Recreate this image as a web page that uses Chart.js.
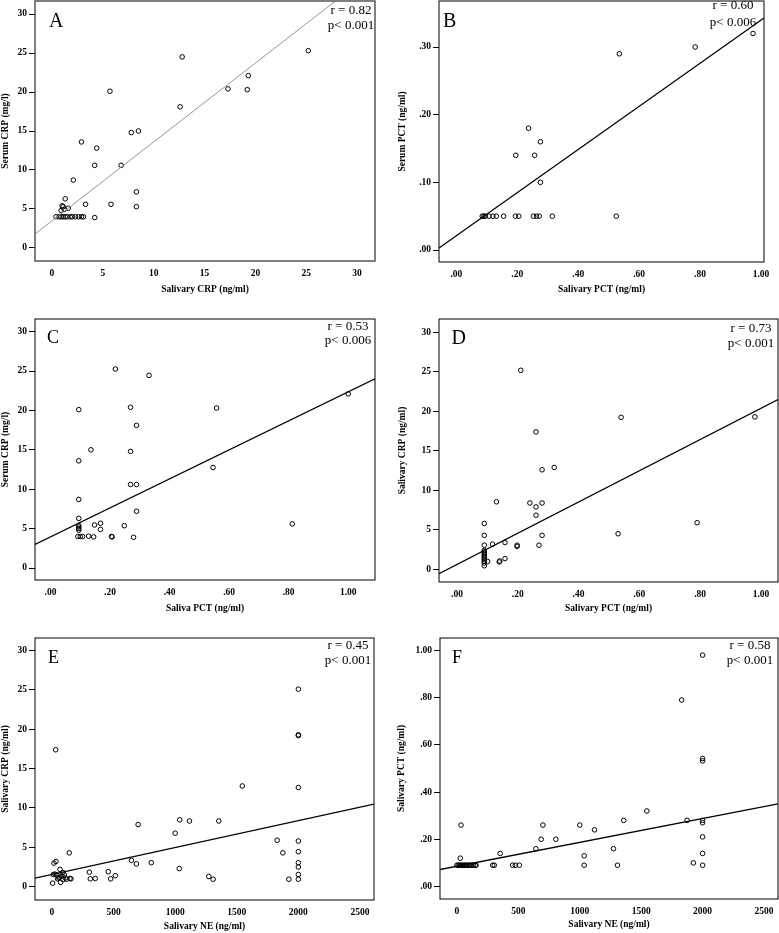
<!DOCTYPE html>
<html><head><meta charset="utf-8">
<script src="https://cdn.jsdelivr.net/npm/chart.js@4.4.1/dist/chart.umd.min.js"></script>
<style>
html,body{margin:0;padding:0;background:#fff;overflow:hidden;}
body{width:779px;height:933px;position:relative;}
.cell{position:absolute;}
canvas{display:block;}
</style></head><body>
<div class="cell" style="left:0px;top:-8px"><canvas id="A" width="390" height="318"></canvas></div>
<div class="cell" style="left:390px;top:-8px"><canvas id="B" width="389" height="318"></canvas></div>
<div class="cell" style="left:0px;top:310px"><canvas id="C" width="390" height="310"></canvas></div>
<div class="cell" style="left:390px;top:310px"><canvas id="D" width="397" height="310"></canvas></div>
<div class="cell" style="left:0px;top:620px"><canvas id="E" width="390" height="313"></canvas></div>
<div class="cell" style="left:390px;top:620px"><canvas id="F" width="397" height="313"></canvas></div>
<script>
// ---------- Panel A: Salivary CRP vs Serum CRP ----------
const aSalivaryCRP = [25.2, 12.8, 19.3, 17.3, 19.2, 5.7, 12.6, 7.8, 8.5, 2.9, 4.4, 4.2, 6.8, 2.1, 8.3, 1.3, 3.3, 5.8, 8.3, 1.6, 1.0, 1.1, 0.9, 1.2, 4.2,
  0.4, 0.7, 0.9, 1.1, 1.3, 1.5, 1.8, 2.0, 2.3, 2.6, 2.9, 3.1];
const aSerumCRP = [25.3, 24.5, 22.1, 20.4, 20.3, 20.1, 18.1, 14.8, 15.0, 13.6, 12.8, 10.6, 10.6, 8.7, 7.2, 6.3, 5.6, 5.6, 5.3, 5.1, 5.4, 5.3, 4.8, 4.95, 3.9,
  4.0, 4.0, 4.0, 4.0, 4.0, 4.0, 4.0, 4.0, 4.0, 4.0, 4.0, 4.0];
const aFitX = [-1.67, 28.0];
const aFitY = [1.8, 31.8];
const aXTicks = [0, 5, 10, 15, 20, 25, 30];
const aYTicks = [0, 5, 10, 15, 20, 25, 30];

// ---------- Panel B: Salivary PCT vs Serum PCT ----------
const bSalivaryPCT = [0.974, 0.784, 0.535, 0.237, 0.276, 0.195, 0.257, 0.276,
  0.085, 0.09, 0.095, 0.107, 0.12, 0.131, 0.155, 0.194, 0.205, 0.253, 0.263, 0.272, 0.315, 0.525];
const bSerumPCT = [0.32, 0.30, 0.29, 0.18, 0.16, 0.14, 0.14, 0.10,
  0.05, 0.05, 0.05, 0.05, 0.05, 0.05, 0.05, 0.05, 0.05, 0.05, 0.05, 0.05, 0.05, 0.05];
const bFitX = [-0.057, 1.01];
const bFitY = [0.003, 0.343];
const bXTicks = [0, 0.2, 0.4, 0.6, 0.8, 1.0];
const bYTicks = [0, 0.1, 0.2, 0.3];

// ---------- Panel C: Saliva PCT vs Serum CRP ----------
const cSalivaPCT = [0.218, 0.331, 1.0, 0.269, 0.558, 0.095, 0.289, 0.136, 0.269, 0.095, 0.546, 0.269, 0.289, 0.095, 0.289, 0.812, 0.095,
  0.148, 0.168, 0.168, 0.248, 0.095, 0.095, 0.095, 0.095, 0.092, 0.10, 0.108, 0.128, 0.145, 0.205, 0.207, 0.279];
const cSerumCRP = [25.25, 24.45, 22.1, 20.4, 20.3, 20.1, 18.1, 15.0, 14.8, 13.6, 12.75, 10.6, 10.6, 8.7, 7.2, 5.6, 6.3,
  5.46, 5.68, 4.9, 5.37, 5.4, 5.2, 5.0, 4.8, 4.0, 4.0, 4.0, 4.05, 3.95, 4.0, 3.95, 3.9];
const cFitX = [-0.052, 1.09];
const cFitY = [3.0, 24.0];
const cXTicks = [0, 0.2, 0.4, 0.6, 0.8, 1.0];
const cYTicks = [0, 5, 10, 15, 20, 25, 30];

// ---------- Panel D: Salivary PCT vs Salivary CRP ----------
const dSalivaryPCT = [0.21, 0.54, 0.98, 0.26, 0.32, 0.28, 0.13, 0.24, 0.28, 0.26, 0.26, 0.79, 0.09, 0.53, 0.28, 0.09, 0.158, 0.117, 0.198, 0.198, 0.27, 0.09,
  0.09, 0.09, 0.09, 0.09, 0.09, 0.09, 0.09, 0.09, 0.09, 0.09, 0.158, 0.139, 0.141, 0.101];
const dSalivaryCRP = [25.2, 19.25, 19.3, 17.4, 12.9, 12.6, 8.55, 8.4, 8.4, 7.9, 6.85, 5.9, 5.8, 4.5, 4.3, 4.3, 3.39, 3.18, 3.05, 2.9, 3.05, 3.05,
  2.4, 2.2, 2.0, 1.8, 1.6, 1.4, 1.2, 1.0, 0.8, 0.45, 1.36, 0.93, 1.05, 0.98];
const dFitX = [-0.059, 1.056];
const dFitY = [-0.55, 21.5];
const dXTicks = [0, 0.2, 0.4, 0.6, 0.8, 1.0];
const dYTicks = [0, 5, 10, 15, 20, 25, 30];

// ---------- Panel E: Salivary NE vs Salivary CRP ----------
const eSalivaryNE = [2000, 2000, 2000, 2000, 2000, 2000, 2000, 2000, 2000, 2000,
  30, 1545, 1037, 1116, 1354, 699, 1000, 1828, 1874, 140,
  645, 685, 806, 1033, 303, 457, 1273, 1308, 1923, 514, 476, 311, 351,
  16, 32, 65, 11, 24, 38, 5, 70, 146, 154, 55, 62, 80, 88, 100, 108, 120, 90, 45];
const eSalivaryCRP = [25.1, 19.3, 19.2, 12.6, 5.8, 4.45, 3.05, 2.5, 1.55, 0.95,
  17.4, 12.8, 8.5, 8.35, 8.35, 7.9, 6.8, 5.9, 4.3, 4.3,
  3.35, 2.9, 3.05, 2.3, 1.85, 1.9, 1.3, 0.95, 0.95, 1.4, 1.0, 1.0, 1.05,
  3.0, 3.2, 2.2, 1.55, 1.6, 1.5, 0.45, 0.55, 1.05, 1.0, 1.1, 1.2, 1.35, 1.8, 1.5, 1.1, 0.95, 0.9, 1.0];
const eFitX = [-138, 2614];
const eFitY = [1.1, 10.5];
const eXTicks = [0, 500, 1000, 1500, 2000, 2500];
const eYTicks = [0, 5, 10, 15, 20, 25, 30];

// ---------- Panel F: Salivary NE vs Salivary PCT ----------
const fSalivaryNE = [2000, 1830, 2000, 2000, 1546, 1358, 1874, 2000, 2000, 700, 1000, 33, 1120, 2000, 686, 805, 643, 1274, 352, 2000, 1036, 27, 1925,
  0, 10, 20, 30, 40, 50, 60, 70, 80, 90, 100, 110, 120, 135, 150, 155, 291, 304, 453, 475, 508, 1036, 1307, 2000];
const fSalivaryPCT = [0.98, 0.79, 0.542, 0.532, 0.32, 0.28, 0.28, 0.28, 0.27, 0.26, 0.26, 0.26, 0.24, 0.21, 0.20, 0.20, 0.16, 0.16, 0.14, 0.14, 0.13, 0.12, 0.10,
  0.09, 0.09, 0.09, 0.09, 0.09, 0.09, 0.09, 0.09, 0.09, 0.09, 0.09, 0.09, 0.09, 0.09, 0.09, 0.09, 0.09, 0.09, 0.09, 0.09, 0.09, 0.09, 0.09, 0.09];
const fFitX = [-138, 2614];
const fFitY = [0.072, 0.35];
const fXTicks = [0, 500, 1000, 1500, 2000, 2500];
const fYTicks = [0, 0.2, 0.4, 0.6, 0.8, 1.0];

const SERIF = '"Liberation Serif", "Times New Roman", serif';
const intFmt = v => String(v);
const decFmt = v => { const s = Number(v).toFixed(2); return s.startsWith('0') ? s.slice(1) : s; };

const framePlugin = {
  id: 'frame',
  afterDatasetsDraw(chart, args, o) {
    const {ctx, chartArea: a} = chart;
    ctx.save();
    ctx.strokeStyle = o.frameColor; ctx.lineWidth = o.frameWidth;
    ctx.strokeRect(a.left, a.top, a.right - a.left, a.bottom - a.top);
    ctx.fillStyle = '#000';
    ctx.textBaseline = 'alphabetic';
    ctx.font = o.letterSize + 'px ' + SERIF;
    ctx.textAlign = 'left';
    ctx.fillText(o.letter, a.left + o.lx, a.top + o.ly + o.letterSize * 0.33);
    ctx.font = '13px ' + SERIF;
    ctx.textAlign = 'center';
    ctx.fillText(o.r, a.right - o.cx, a.top + o.ry + 4.3);
    ctx.fillText(o.p, a.right - o.cx, a.top + o.py + 4.3);
    ctx.restore();
  }
};

function makeChart(id, c) {
  const pts = c.x.map((v, i) => ({x: v, y: c.y[i]}));
  const fit = c.fitX.map((v, i) => ({x: v, y: c.fitY[i]}));
  const tickFont = {family: SERIF, size: 9.5, weight: 'bold'};
  new Chart(document.getElementById(id), {
    type: 'scatter',
    data: {datasets: [
      {data: pts, pointStyle: 'circle', pointRadius: 2.3, pointBorderWidth: 1, pointBorderColor: '#000',
       pointBackgroundColor: 'rgba(255,255,255,0)', showLine: false, order: 1},
      {type: 'line', data: fit, borderColor: c.lineColor, borderWidth: c.lineWidth, pointRadius: 0, fill: false, tension: 0, order: 0}
    ]},
    options: {
      responsive: false, animation: false, events: [],
      layout: {padding: {left: c.pad[0], top: c.pad[1], right: c.pad[2], bottom: c.pad[3]}},
      plugins: {legend: {display: false}, tooltip: {enabled: false}, frame: c.frame},
      scales: {
        x: {
          type: 'linear', min: c.xr[0], max: c.xr[1],
          afterBuildTicks: s => { s.ticks = c.xTicks.map(v => ({value: v})); },
          afterFit: s => { s.height = c.xH; },
          ticks: {callback: c.xFmt, font: tickFont, color: '#000', padding: 3, maxRotation: 0, autoSkip: false},
          grid: {display: true, drawOnChartArea: false, drawTicks: true, tickLength: 4, color: 'rgba(0,0,0,0)'},
          border: {display: false},
          title: {display: true, text: c.xTitle, font: tickFont, color: '#000', padding: 0}
        },
        y: {
          type: 'linear', min: c.yr[0], max: c.yr[1],
          afterBuildTicks: s => { s.ticks = c.yTicks.map(v => ({value: v})); },
          afterFit: s => { s.width = c.yW; },
          ticks: {callback: c.yFmt, font: tickFont, color: '#000', padding: 2, autoSkip: false},
          grid: {display: true, drawOnChartArea: false, drawTicks: true, tickLength: 6, color: '#000', lineWidth: 1},
          border: {display: false},
          title: {display: true, text: c.yTitle, font: tickFont, color: '#000', padding: 0}
        }
      }
    },
    plugins: [framePlugin]
  });
}

makeChart('A', {x: aSalivaryCRP, y: aSerumCRP, fitX: aFitX, fitY: aFitY, xTicks: aXTicks, yTicks: aYTicks,
  xFmt: intFmt, yFmt: intFmt, xr: [-1.67, 31.76], yr: [-1.67, 31.67],
  xTitle: 'Salivary CRP (ng/ml)', yTitle: 'Serum CRP (mg/l)', lineColor: '#8a8a8a', lineWidth: 0.9,
  pad: [0, 9, 15, 14.3], yW: 35, xH: 34.7,
  frame: {frameColor: '#555', frameWidth: 1.5, letter: 'A', letterSize: 20, lx: 14, ly: 19, r: 'r = 0.82', p: 'p< 0.001', cx: 24, ry: 9, py: 24}});

makeChart('B', {x: bSalivaryPCT, y: bSerumPCT, fitX: bFitX, fitY: bFitY, xTicks: bXTicks, yTicks: bYTicks,
  xFmt: decFmt, yFmt: decFmt, xr: [-0.057, 1.01], yr: [-0.0177, 0.368],
  xTitle: 'Salivary PCT (ng/ml)', yTitle: 'Serum PCT (ng/ml)', lineColor: '#000', lineWidth: 1.3,
  pad: [7, 9, 15, 14.3], yW: 42, xH: 33.7,
  frame: {frameColor: '#000', frameWidth: 1, letter: 'B', letterSize: 20, lx: 4, ly: 19, r: 'r = 0.60', p: 'p< 0.006', cx: 31, ry: 4, py: 21}});

makeChart('C', {x: cSalivaPCT, y: cSerumCRP, fitX: cFitX, fitY: cFitY, xTicks: cXTicks, yTicks: cYTicks,
  xFmt: decFmt, yFmt: intFmt, xr: [-0.052, 1.09], yr: [-1.52, 31.6],
  xTitle: 'Saliva PCT (ng/ml)', yTitle: 'Serum CRP (mg/l)', lineColor: '#000', lineWidth: 1.3,
  pad: [0, 9, 15, 5.3], yW: 35, xH: 34.7,
  frame: {frameColor: '#000', frameWidth: 1, letter: 'C', letterSize: 18, lx: 12, ly: 18.5, r: 'r = 0.53', p: 'p< 0.006', cx: 27, ry: 7, py: 21}});

makeChart('D', {x: dSalivaryPCT, y: dSalivaryCRP, fitX: dFitX, fitY: dFitY, xTicks: dXTicks, yTicks: dYTicks,
  xFmt: decFmt, yFmt: intFmt, xr: [-0.059, 1.056], yr: [-1.61, 31.7],
  xTitle: 'Salivary PCT (ng/ml)', yTitle: 'Salivary CRP (ng/ml)', lineColor: '#000', lineWidth: 1.3,
  pad: [7, 9, 9, 5.3], yW: 42, xH: 32.7,
  frame: {frameColor: '#000', frameWidth: 1, letter: 'D', letterSize: 20, lx: 12.5, ly: 18.5, r: 'r = 0.73', p: 'p< 0.001', cx: 27, ry: 9, py: 24}});

makeChart('E', {x: eSalivaryNE, y: eSalivaryCRP, fitX: eFitX, fitY: eFitY, xTicks: eXTicks, yTicks: eYTicks,
  xFmt: intFmt, yFmt: intFmt, xr: [-138, 2614], yr: [-1.69, 31.6],
  xTitle: 'Salivary NE (ng/ml)', yTitle: 'Salivary CRP (ng/ml)', lineColor: '#000', lineWidth: 1.3,
  pad: [0, 18, 16, 0.3], yW: 35, xH: 32.7,
  frame: {frameColor: '#000', frameWidth: 1, letter: 'E', letterSize: 18, lx: 13, ly: 19.5, r: 'r = 0.45', p: 'p< 0.001', cx: 26, ry: 7, py: 22}});

makeChart('F', {x: fSalivaryNE, y: fSalivaryPCT, fitX: fFitX, fitY: fFitY, xTicks: fXTicks, yTicks: fYTicks,
  xFmt: intFmt, yFmt: decFmt, xr: [-138, 2614], yr: [-0.053, 1.0525],
  xTitle: 'Salivary NE (ng/ml)', yTitle: 'Salivary PCT (ng/ml)', lineColor: '#000', lineWidth: 1.3,
  pad: [6, 18, 9, 2.3], yW: 44, xH: 31.7,
  frame: {frameColor: '#000', frameWidth: 1, letter: 'F', letterSize: 18, lx: 12, ly: 19.5, r: 'r = 0.58', p: 'p< 0.001', cx: 28, ry: 7, py: 22}});
</script>
</body></html>
